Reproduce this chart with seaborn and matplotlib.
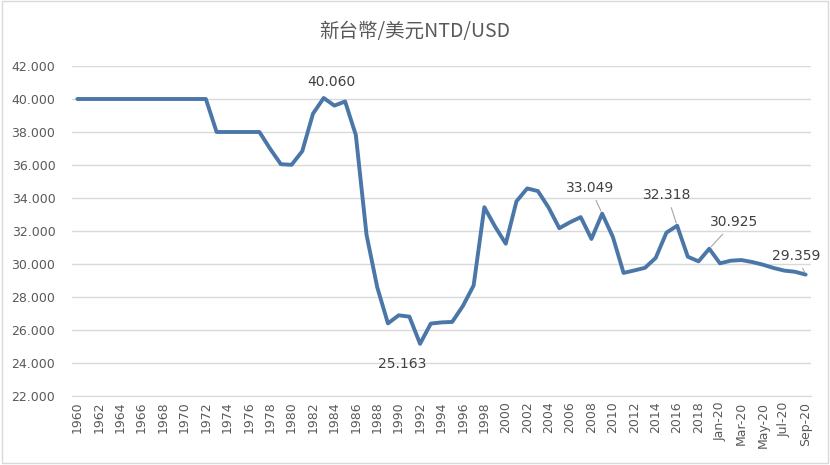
import matplotlib
matplotlib.use('Agg')
import numpy as np
import pandas as pd
import seaborn as sns
from matplotlib import pyplot as plt
from matplotlib.patches import Rectangle

years = [str(y) for y in range(1960, 2020)]
months = ['Jan-20', 'Feb-20', 'Mar-20', 'Apr-20', 'May-20', 'Jun-20', 'Jul-20', 'Aug-20', 'Sep-20']
periods = years + months

rate_years = [40.0] * 13 + [38.0, 38.0, 38.0, 38.0, 38.0,
              36.98, 36.05, 36.01, 36.84, 39.11, 40.06, 39.6, 39.85, 37.82, 31.77, 28.59,
              26.40, 26.89, 26.81, 25.163, 26.39, 26.46, 26.49, 27.46, 28.70, 33.44,
              32.27, 31.23, 33.80, 34.58, 34.42, 33.42, 32.17, 32.53, 32.84, 31.52,
              33.049, 31.64, 29.46, 29.61, 29.77, 30.37, 31.90, 32.318, 30.44, 30.16,
              30.925]
rate_months = [30.04, 30.20, 30.24, 30.12, 29.96, 29.76, 29.60, 29.53, 29.359]
rates = rate_years + rate_months

# labelled points: (period, text offset in px)
labelled = {'1983': (8, 16), '1992': (-18, -20), '2009': (-12, 26),
            '2016': (-10, 31), '2019': (25, 27), 'Sep-20': (-9, 19)}
leaders = {'2009', '2016', '2019', 'Sep-20'}

df = pd.DataFrame({'period': periods, 'rate': rates})
df['x'] = np.arange(len(df))

sns.set_style('white')
plt.rcParams['font.family'] = ['DejaVu Sans', 'Noto Sans CJK TC']

fig = plt.figure(figsize=(8.3, 4.65), dpi=100)
ax = fig.add_axes([72 / 830, 1 - 396 / 465, 739 / 830, 330 / 465])

sns.lineplot(data=df, x='x', y='rate', ax=ax, color='#4A76A8', linewidth=2.8)

ax.set_xlim(-0.5, len(df) - 0.5)
ax.set_ylim(22, 42)
ax.set_yticks(np.arange(22, 43, 2))
ax.set_yticklabels([f'{v:.3f}' for v in np.arange(22, 43, 2)], fontsize=9, color='#595959')
ax.set_xticks(df['x'][::2])
ax.set_xticklabels(df['period'][::2], rotation=90, fontsize=9, color='#595959')
ax.tick_params(axis='y', length=0, pad=12)
ax.tick_params(axis='x', length=0, pad=4)
ax.grid(True, axis='y', color='#D9D9D9', linewidth=1)
ax.set_axisbelow(True)
for s in ['top', 'right', 'left']:
    ax.spines[s].set_visible(False)
ax.spines['bottom'].set_color('#D9D9D9')
ax.set_xlabel('')
ax.set_ylabel('')

for p, (dx, dy) in labelled.items():
    row = df[df['period'] == p].iloc[0]
    arrow = dict(arrowstyle='-', color='#A6A6A6', lw=0.8, shrinkA=2, shrinkB=2) if p in leaders else None
    ax.annotate(f"{row['rate']:.3f}", (row['x'], row['rate']), xytext=(dx, dy),
                textcoords='offset pixels', ha='center', va='center', fontsize=10,
                color='#404040', arrowprops=arrow)

fig.text(0.5, 1 - 31 / 465, '新台幣/美元NTD/USD', ha='center', va='center', fontsize=14,
         color='#595959', family=['Noto Sans CJK TC', 'DejaVu Sans'])

fig.patches.append(Rectangle((0.003, 0.004), 0.994, 0.993, transform=fig.transFigure,
                             fill=False, edgecolor='#D9D9D9', linewidth=1))

fig.savefig('out.png', dpi=100)
